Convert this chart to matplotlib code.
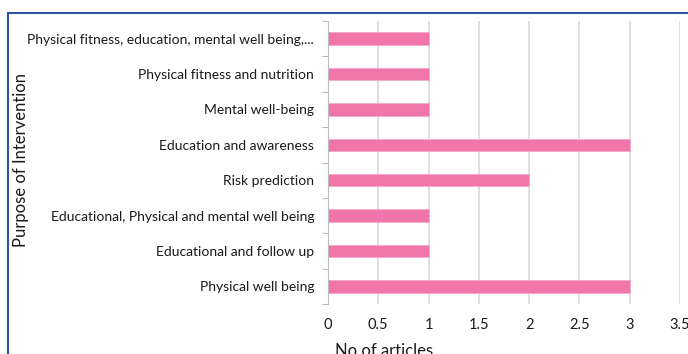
import matplotlib
matplotlib.use("Agg")
import matplotlib.pyplot as plt
import matplotlib.patches as mpatches
import numpy as np

categories = [
    "Physical well being",
    "Educational and follow up",
    "Educational, Physical and mental well being",
    "Risk prediction",
    "Education and awareness",
    "Mental well-being",
    "Physical fitness and nutrition",
    "Physical fitness, education, mental well being,...",
]
values = [3, 1, 1, 2, 3, 1, 1, 1]
xticks = [0, 0.5, 1, 1.5, 2, 2.5, 3, 3.5]
xticklabels = ["0", "0.5", "1", "1.5", "2", "2.5", "3", "3.5"]

plt.rcParams['font.family'] = ['Lato', 'DejaVu Sans']

W, H = 688, 354
fig = plt.figure(figsize=(W / 100, H / 100), dpi=100)
left, right, top, bottom = 328, 680, 21, 304
ax = fig.add_axes([left / W, 1 - bottom / H, (right - left) / W, (bottom - top) / H])

y = np.arange(len(categories))
ax.barh(y, values, height=0.35, color="#F075AA", edgecolor="#F7A9CB", linewidth=0.6, zorder=3)

ax.set_xlim(0, 3.5)
ax.set_ylim(-0.5, len(categories) - 0.5)
ax.set_xticks(xticks)
ax.set_xticklabels(xticklabels, fontsize=10.5, color="#1a1a1a")
ax.set_yticks(y)
ax.set_yticklabels(categories, fontsize=10, color="#1a1a1a")
ax.set_yticks(np.arange(-0.5, len(categories), 1), minor=True)

ax.tick_params(axis="y", which="major", length=0, pad=10)
ax.tick_params(axis="y", which="minor", length=4, color="#BBBBBB", width=0.8)
ax.tick_params(axis="x", length=0, pad=10)

ax.grid(axis="x", color="#D9D9D9", linewidth=1.2, zorder=0)
for s in ["top", "right", "bottom"]:
    ax.spines[s].set_visible(False)
ax.spines["left"].set_color("#BBBBBB")
ax.spines["left"].set_linewidth(0.8)
ax.spines["left"].set_zorder(4)

fig.text(384 / W, 1 - 351 / H, "No of articles", ha="center", va="center",
         fontsize=12, color="#1a1a1a")
fig.text(21 / W, 1 - 160 / H, "Purpose of Intervention", rotation=90,
         ha="center", va="center", fontsize=12, color="#1a1a1a")

border = mpatches.Rectangle((8 / W, -0.2), 2, (H - 13) / H + 0.2,
                            transform=fig.transFigure, fill=False,
                            edgecolor="#2F55A0", linewidth=1.5, clip_on=False)
fig.patches.append(border)

fig.savefig("out.png", dpi=100)
